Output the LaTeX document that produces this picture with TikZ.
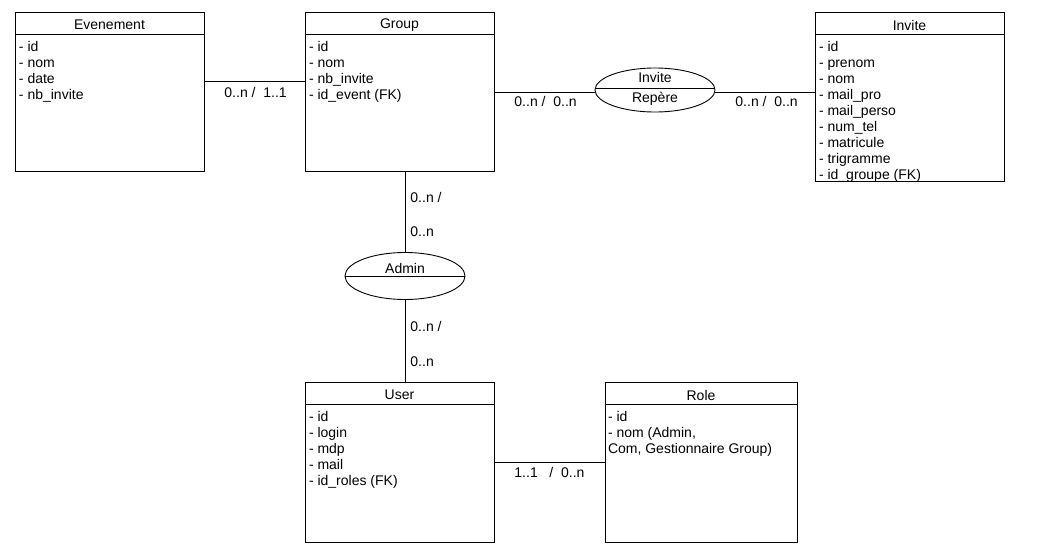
\documentclass[tikz,border=0pt]{standalone}
\usepackage{fontspec}
\setmainfont{Liberation Sans}
\usetikzlibrary{shapes.geometric,positioning}

\begin{document}
\begin{tikzpicture}[x=1pt,y=-1pt,line width=0.9pt,
  entity/.style={draw,rectangle,inner sep=0pt,minimum width=189pt},
  title/.style={inner sep=0pt,font=\fontsize{14}{16}\selectfont},
  attrs/.style={anchor=north west,inner sep=0pt,align=left,font=\fontsize{14}{16}\selectfont},
  relation/.style={draw,ellipse,inner sep=0pt,minimum width=120pt,minimum height=46pt},
  card/.style={anchor=west,inner sep=0pt,font=\fontsize{14}{16}\selectfont}]
  \useasboundingbox (0,0) rectangle (1037,554);

  % entites
  \node[entity,minimum height=159pt] (ev) at (109.5,91.5) {};
  \draw ([yshift=-23pt]ev.north west) -- ([yshift=-23pt]ev.north east);
  \node[title] (evT) at ([yshift=-13.5pt]ev.north) {Evenement};
  \node[attrs] (evA) at ([xshift=4pt,yshift=-29.5pt]ev.north west) {- id\\- nom\\- date\\- nb\_invite};

  \node[entity,minimum height=159pt] (grp) at (399.5,91.5) {};
  \draw ([yshift=-23pt]grp.north west) -- ([yshift=-23pt]grp.north east);
  \node[title] (grpT) at ([yshift=-13.5pt]grp.north) {Group};
  \node[attrs] (grpA) at ([xshift=4pt,yshift=-29.5pt]grp.north west) {- id\\- nom\\- nb\_invite\\- id\_event (FK)};

  \node[entity,minimum height=169pt] (inv) at (909.5,96.5) {};
  \draw ([yshift=-23pt]inv.north west) -- ([yshift=-23pt]inv.north east);
  \node[title] (invT) at ([yshift=-13.5pt]inv.north) {Invite};
  \node[attrs] (invA) at ([xshift=4pt,yshift=-29.5pt]inv.north west) {- id\\- prenom\\- nom\\- mail\_pro\\- mail\_perso\\- num\_tel\\- matricule\\- trigramme\\- id\_groupe (FK)};

  \node[entity,minimum height=160pt] (usr) at (399.5,462) {};
  \draw ([yshift=-23pt]usr.north west) -- ([yshift=-23pt]usr.north east);
  \node[title] (usrT) at ([yshift=-13.5pt]usr.north) {User};
  \node[attrs] (usrA) at ([xshift=4pt,yshift=-29.5pt]usr.north west) {- id\\- login\\- mdp\\- mail\\- id\_roles (FK)};

  \node[entity,minimum width=192pt,minimum height=160pt] (role) at (701,462) {};
  \draw ([yshift=-23pt]role.north west) -- ([yshift=-23pt]role.north east);
  \node[title] (roleT) at ([yshift=-13.5pt]role.north) {Role};
  \node[attrs] (roleA) at ([xshift=3pt,yshift=-29.5pt]role.north west) {- id\\- nom (Admin,\\Com, Gestionnaire Group)};

  % associations
  \node[relation,minimum height=44pt] (reli) at (655,90) {};
  \draw ([yshift=2pt]reli.west) -- ([yshift=2pt]reli.east);
  \node[title] (reliT) at (655,77.5) {Invite};
  \node[title] (reliB) at (655,98.5) {Repère};

  \node[relation,minimum height=47pt] (rela) at (405,276) {};
  \draw (rela.west) -- (rela.east);
  \node[title] (relaT) at (405,268.5) {Admin};

  % liens
  \draw ([yshift=10.5pt]ev.east) -- ([yshift=10.5pt]grp.west);
  \draw ([yshift=-0.5pt]grp.east) -- ([yshift=-2pt]reli.west);
  \draw ([yshift=-2pt]reli.east) -- ([yshift=4.5pt]inv.west);
  \draw (rela.north) -- (rela.north |- grp.south);
  \draw (rela.south) -- (rela.south |- usr.north);
  \draw (usr.east) -- (role.west);

  % cardinalites
  \node[card] (c1) at (224,92.5) {0..n /\ \ 1..1};
  \node[card] (c2) at (514,101.5) {0..n /\ \ 0..n};
  \node[card] (c3) at (735,101.5) {0..n /\ \ 0..n};
  \node[card] (c4) at (410,197.5) {0..n /};
  \node[card] (c5) at (410,231.5) {0..n};
  \node[card] (c6) at (410,326.5) {0..n /};
  \node[card] (c7) at (410,361.5) {0..n};
  \node[card] (c8) at (514,472.5) {1..1 \ \ / \ 0..n};
\end{tikzpicture}
\end{document}
